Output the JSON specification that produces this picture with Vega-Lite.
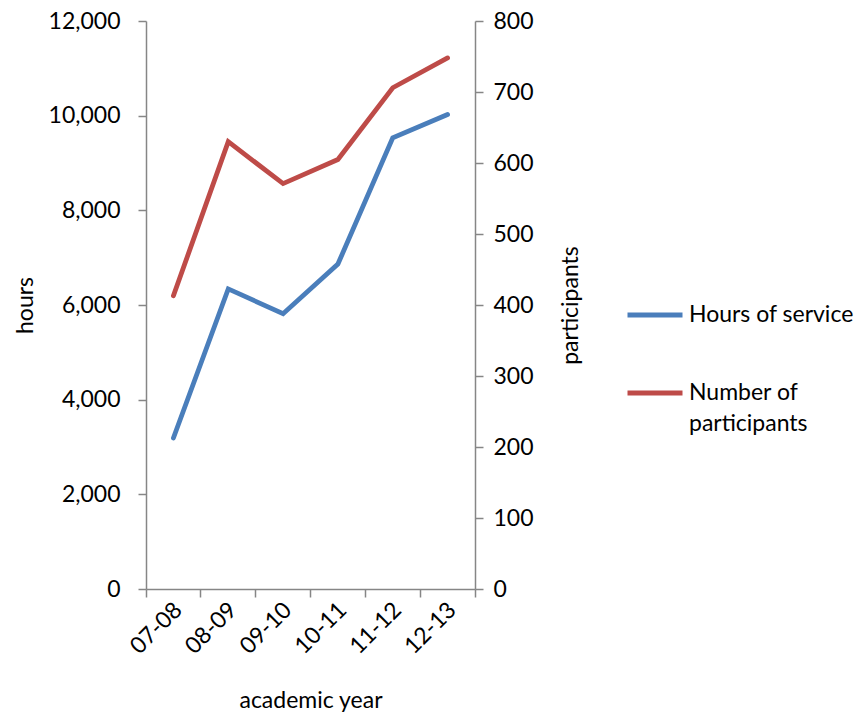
{
  "$schema": "https://vega.github.io/schema/vega-lite/v6.json",
  "autosize": "none",
  "width": 329,
  "height": 568,
  "padding": {"left": 146, "top": 21, "right": 386, "bottom": 126},
  "background": "white",
  "config": {
    "font": "Lato",
    "view": {"stroke": null},
    "axis": {
      "labelFont": "Lato", "titleFont": "Lato", "labelFontSize": 23, "titleFontSize": 23,
      "labelColor": "black", "titleColor": "black", "titleFontWeight": "normal",
      "domainColor": "#868686", "tickColor": "#868686", "domainWidth": 1.5, "tickWidth": 1.5,
      "tickSize": 8, "grid": false
    },
    "legend": {"labelFont": "Lato", "labelFontSize": 23, "labelColor": "black"}
  },
  "data": {
    "values": [
      {"year": "07-08", "hours": 3190, "participants": 413},
      {"year": "08-09", "hours": 6340, "participants": 630},
      {"year": "09-10", "hours": 5815, "participants": 571},
      {"year": "10-11", "hours": 6865, "participants": 605},
      {"year": "11-12", "hours": 9530, "participants": 706},
      {"year": "12-13", "hours": 10025, "participants": 748}
    ]
  },
  "encoding": {
    "x": {
      "field": "year", "type": "nominal", "sort": null,
      "scale": {"type": "band", "paddingInner": 0, "paddingOuter": 0},
      "axis": {
        "title": "academic year", "labelAngle": -45, "labelAlign": "right", "labelBaseline": "middle",
        "bandPosition": 1, "tickExtra": true, "labelOffset": 5, "labelPadding": 9,
        "titleY": 111, "titleBaseline": "middle"
      }
    }
  },
  "layer": [
    {
      "mark": {"type": "line", "strokeWidth": 4.8, "strokeCap": "round", "strokeJoin": "miter"},
      "encoding": {
        "y": {
          "field": "hours", "type": "quantitative",
          "scale": {"domain": [0, 12000], "nice": false},
          "axis": {"title": "hours", "values": [0, 2000, 4000, 6000, 8000, 10000, 12000], "format": ",.0f", "labelPadding": 18, "titleX": -121, "titleAngle": -90, "titleBaseline": "middle"}
        },
        "color": {
          "datum": "Hours of service", "type": "nominal",
          "scale": {"domain": ["Hours of service", "Number of participants"], "range": ["#4A7EBB", "#BE4B48"]},
          "legend": {
            "title": null, "orient": "none", "legendX": 479, "legendY": 264,
            "symbolType": "stroke", "symbolSize": 3025, "symbolStrokeWidth": 4.8,
            "labelOffset": 4, "rowPadding": 36, "labelLimit": 300,
            "labelExpr": "datum.label == 'Number of participants' ? ['Number of', 'participants'] : datum.label",
            "encode": {"labels": {"update": {"lineHeight": {"value": 31}}}}
          }
        }
      }
    },
    {
      "mark": {"type": "line", "strokeWidth": 4.8, "strokeCap": "round", "strokeJoin": "miter"},
      "encoding": {
        "y": {
          "field": "participants", "type": "quantitative",
          "scale": {"domain": [0, 800], "nice": false},
          "axis": {"title": "participants", "orient": "right", "values": [0, 100, 200, 300, 400, 500, 600, 700, 800], "labelPadding": 10, "titleX": 95, "titleAngle": -90, "titleBaseline": "middle"}
        },
        "color": {"datum": "Number of participants", "type": "nominal"}
      }
    }
  ],
  "resolve": {"scale": {"y": "independent"}}
}
